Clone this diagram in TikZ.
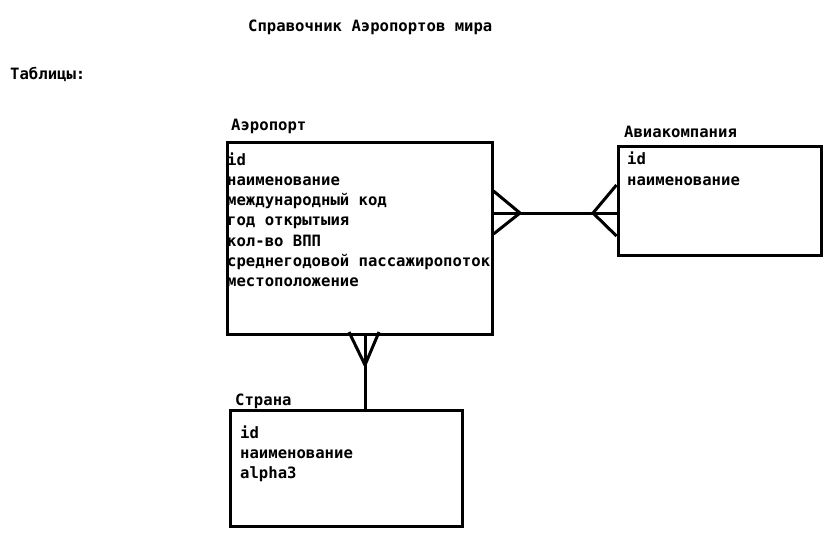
\documentclass[tikz,border=0pt]{standalone}
\usepackage{fontspec}
\newfontfamily\dmono{DejaVu Sans Mono}
\begin{document}
\begin{tikzpicture}[x=1pt,y=-1pt,
  txt/.style={inner sep=0pt,anchor=base west,font=\dmono\bfseries\fontsize{15.6}{20}\selectfont},
  tbl/.style={draw,line width=3pt,inner sep=0pt},
  ln/.style={line width=3pt}]
\useasboundingbox[fill=white] (0,0) rectangle (838,547);
\node[txt] (title) at (248,31) {Справочник Аэропортов мира};
\node[txt] (tables) at (10,79) {Таблицы:};
% Airport
\node[tbl,minimum width=265pt,minimum height=192pt] (air) at (359.5,238) {};
\node[txt] (airlbl) at (231,130) {Аэропорт};
\node[txt] (a1) at (227,165) {id};
\node[txt] (a2) at (227,185.3) {наименование};
\node[txt] (a3) at (227,205.6) {международный код};
\node[txt] (a4) at (227,225.9) {год открытыия};
\node[txt] (a5) at (227,246.2) {кол-во ВПП};
\node[txt] (a6) at (227,266.5) {среднегодовой пассажиропоток};
\node[txt] (a7) at (227,286.8) {местоположение};
% Airline
\node[tbl,minimum width=203pt,minimum height=109pt] (avia) at (719.5,200.5) {};
\node[txt] (avlbl) at (624,137) {Авиакомпания};
\node[txt] (v1) at (627,164) {id};
\node[txt] (v2) at (627,185) {наименование};
% Country
\node[tbl,minimum width=232pt,minimum height=116pt] (cty) at (346,468) {};
\node[txt] (clbl) at (235,405) {Страна};
\node[txt] (c1) at (240,438) {id};
\node[txt] (c2) at (240,458) {наименование};
\node[txt] (c3) at (240,478) {alpha3};
% connectors
\coordinate (ha) at (air.east |- 0,213);
\coordinate (hv) at (avia.west |- 0,213);
\coordinate (fl) at (520,213);
\coordinate (fr) at (593,213);
\draw[ln] (ha) -- (hv);
\draw[ln] (ha |- 0,191) -- (fl) -- (ha |- 0,234);
\draw[ln] (hv |- 0,185) -- (fr) -- (hv |- 0,236);
\coordinate (vt) at (365,334);
\coordinate (vb) at (365,410);
\coordinate (fv) at (365,365);
\draw[ln] (vt) -- (vb);
\draw[ln] (349,332) -- (fv) -- (379,332);
\end{tikzpicture}
\end{document}
